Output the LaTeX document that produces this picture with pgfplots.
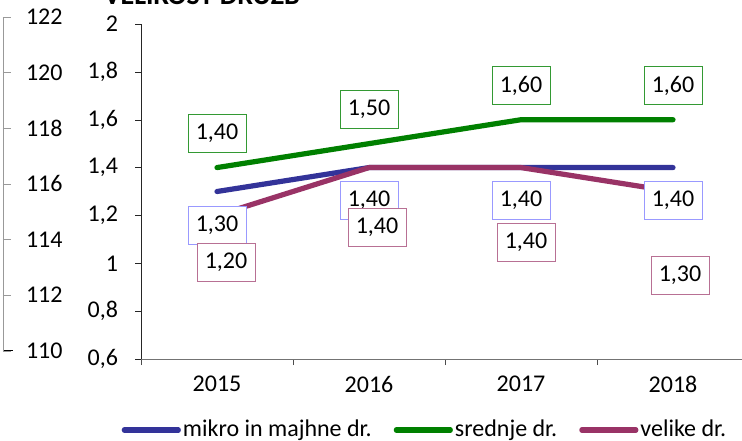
\documentclass[border=0pt]{standalone}
\usepackage{fontspec}
\setmainfont{Carlito}
\usepackage{pgfplots}
\usepackage{pgfplotstable}
\pgfplotsset{compat=1.18}

\definecolor{cmikro}{HTML}{333399}
\definecolor{csrednje}{HTML}{008000}
\definecolor{cvelike}{HTML}{993366}

% x = 0..3 stands for 2015..2018; lx, ly = label offset in pt
\pgfplotstableread{
x y lx ly
0 1.30 0 -17
1 1.40 0 -16.5
2 1.40 0 -16.5
3 1.40 0 -16.5
}\tmikro
\pgfplotstableread{
x y lx ly
0 1.40 0 17
1 1.50 0 17
2 1.60 0 17
3 1.60 0 17
}\tsrednje
\pgfplotstableread{
x y lx ly
0 1.20 4.5 -23.5
1 1.40 4 -30
2 1.40 2.5 -37.5
3 1.30 3.5 -42
}\tvelike

\pgfplotsset{
  lbl/.style={
    draw=none, mark=none, forget plot,
    nodes near coords={\pgfmathprintnumber[fixed,fixed zerofill,precision=2,use comma]{\pgfplotspointmeta}},
    visualization depends on={\thisrow{lx} \as \lx},
    visualization depends on={\thisrow{ly} \as \ly},
    nodes near coords style={anchor=center, xshift=\lx pt, yshift=\ly pt,
      draw=#1, fill=white, text=black, line width=0.5pt,
      minimum width=29pt, minimum height=19pt, inner sep=1pt},
  },
}

\begin{document}
\begin{tikzpicture}
  \begin{scope}
    \clip (0,0) rectangle (371pt,220pt);
    \node[anchor=base, font=\bfseries\fontsize{14}{16}\selectfont] at (101pt,217.5pt) {VELIKOST DRUŽB};
  \end{scope}

  % secondary axis on the far left
  \begin{axis}[
      scale only axis, width=5pt, height=167pt,
      at={(1.5pt,44.65pt)}, anchor=south west,
      font=\fontsize{12}{14}\selectfont,
      /pgf/number format/assume math mode=true,
      xmin=0, xmax=1, ymin=110, ymax=122,
      ytick={110,112,114,116,118,120,122},
      xtick=\empty,
      axis y line*=left, axis x line*=bottom,
      tick align=inside, major tick length=4pt,
      y axis line style={gray!80,-},
      x axis line style={black,-},
      ytick style={gray!80},
      yticklabel style={anchor=west, xshift=8pt},
    ]
  \end{axis}

  \begin{axis}[
      scale only axis, width=304pt, height=167.5pt,
      at={(70.5pt,40.5pt)}, anchor=south west,
      font=\fontsize{12}{14}\selectfont,
      /pgf/number format/use comma,
      /pgf/number format/assume math mode=true,
      xmin=-0.5, xmax=3.5, ymin=0.6, ymax=2,
      ytick={0.6,0.8,1,1.2,1.4,1.6,1.8,2},
      xtick={-0.5,0.5,1.5,2.5,3.5},
      x tick label as interval,
      xticklabels={2015,2016,2017,2018},
      axis x line*=bottom, axis y line*=left,
      tick align=outside, major tick length=3pt,
      x axis line style={black!55,-},
      y axis line style={black!85,-},
      xtick style={black!70},
      ytick style={black!85},
      every y tick label/.append style={xshift=-5pt},
      every x tick label/.append style={yshift=-2pt},
      clip=false,
      legend style={
        at={(0.467,-0.212)}, anchor=center,
        draw=none, fill=none,
        legend columns=-1,
        nodes={inner sep=1pt},
        /tikz/every even column/.append style={column sep=10pt},
      },
      legend image code/.code={\draw[#1] (0pt,0pt) -- (27pt,0pt);},
    ]
    \addplot[cmikro, line width=2.6pt, line cap=round, line join=round] table[x=x,y=y] {\tmikro};
    \addplot[csrednje, line width=2.6pt, line cap=round, line join=round] table[x=x,y=y] {\tsrednje};
    \addplot[cvelike, line width=2.6pt, line cap=round, line join=round] table[x=x,y=y] {\tvelike};
    \legend{mikro in majhne dr.,srednje dr.,velike dr.}

    \addplot[lbl={csrednje!80}] table[x=x,y=y] {\tsrednje};
    \addplot[lbl={blue!40}] table[x=x,y=y] {\tmikro};
    \addplot[lbl={cvelike!70}] table[x=x,y=y] {\tvelike};
  \end{axis}

  \pgfresetboundingbox
  \path[use as bounding box] (0,0) rectangle (371pt,220pt);
\end{tikzpicture}
\end{document}
